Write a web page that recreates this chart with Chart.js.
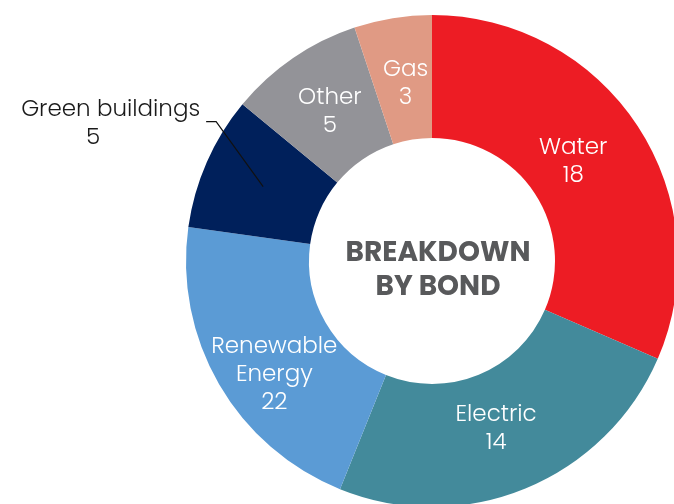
<!DOCTYPE html>
<html>
<head>
<meta charset="utf-8">
<script src="https://cdn.jsdelivr.net/npm/chart.js@4"></script>
<style>
  html, body { margin: 0; padding: 0; background: #fff; overflow: hidden; }
  #wrap { position: absolute; left: 0; top: 0; width: 700px; height: 520px; }
</style>
</head>
<body>
<div id="wrap"><canvas id="myChart"></canvas></div>
<script>
// Dati del grafico
const categories = ['Water', 'Electric', 'Renewable Energy', 'Green buildings', 'Other', 'Gas'];
const labelLines = [['Water'], ['Electric'], ['Renewable', 'Energy'], ['Green buildings'], ['Other'], ['Gas']];
const shares = [31.5, 24.6, 21.1, 8.8, 8.9, 5.1];   // ampiezza delle fette
const bondCounts = [18, 14, 22, 5, 5, 3];           // numeri scritti nelle etichette
const colors = ['#ED1C24', '#438A9B', '#5B9BD5', '#00205B', '#939398', '#E09A84'];

const labelFont = '300 23px "Poppins", "Inter", sans-serif';
const lineH = 28;
// piccoli spostamenti delle etichette rispetto al centro della fetta
const nudge = [[-13, 3], [-6, -2], [2, 22], [0, 0], [2, 4], [3, 5]];

// Plugin per le etichette dentro le fette e il titolo al centro
const labelsPlugin = {
    id: 'sliceLabels',
    afterDatasetsDraw(chart) {
        const c = chart.ctx;
        const meta = chart.getDatasetMeta(0);
        c.save();
        c.font = labelFont;
        c.textBaseline = 'middle';
        meta.data.forEach((arc, i) => {
            const p = arc.getCenterPoint();
            const lines = labelLines[i].concat([String(bondCounts[i])]);
            if (i === 3) {
                // Green buildings: etichetta esterna con linea
                const ex = p.x - 47, ey = p.y - 65;
                c.strokeStyle = '#111';
                c.lineWidth = 1.2;
                c.beginPath();
                c.moveTo(p.x, p.y);
                c.lineTo(ex, ey);
                c.lineTo(ex - 10, ey);
                c.stroke();
                c.fillStyle = '#1a1a1a';
                c.textAlign = 'right';
                c.fillText(lines[0], ex - 16, ey - 11);
                c.textAlign = 'center';
                c.fillText(lines[1], ex - 123, ey + 17);
                return;
            }
            c.fillStyle = '#fff';
            c.textAlign = 'center';
            const x = p.x + nudge[i][0];
            const top = p.y + nudge[i][1] - (lines.length - 1) * lineH / 2;
            lines.forEach((t, k) => c.fillText(t, x, top + k * lineH));
        });
        // titolo centrale
        const cx = meta.data[0].x + 6, cy = meta.data[0].y;
        c.fillStyle = '#58595B';
        c.font = '700 28px "Poppins", "Inter", sans-serif';
        c.textAlign = 'center';
        c.fillText('BREAKDOWN', cx, cy - 7);
        c.fillText('BY BOND', cx, cy + 27);
        c.restore();
    }
};

const ctx = document.getElementById('myChart');

const graph = new Chart(ctx, {
    type: 'doughnut',
    data: {
        labels: categories,
        datasets: [{
            data: shares,
            backgroundColor: colors,
            borderWidth: 0
        }]
    },
    options: {
        responsive: true,
        maintainAspectRatio: false,
        animation: false,
        cutout: '50%',
        layout: {
            padding: { left: 186, right: 22, top: 15, bottom: 13 }
        },
        plugins: {
            legend: { display: false },
            tooltip: { enabled: false }
        }
    },
    plugins: [labelsPlugin]
});
</script>
</body>
</html>
